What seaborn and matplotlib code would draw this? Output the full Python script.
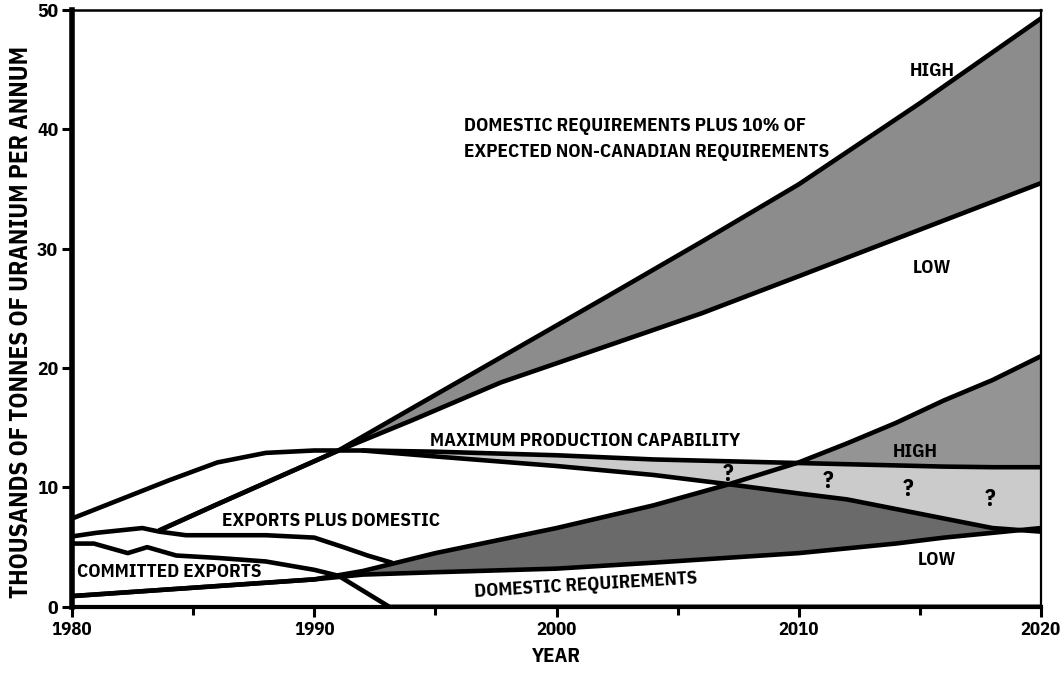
import numpy as np
import matplotlib
matplotlib.use("Agg")
import matplotlib.pyplot as plt
import seaborn as sns

# ---------------- data (thousands of tonnes U per annum) ----------------
dom_years = [1980, 1985, 1990, 1992, 1995, 2000, 2004, 2007, 2010, 2012, 2014, 2016, 2018, 2020]
dom_high = [0.9, 1.6, 2.3, 3.0, 4.5, 6.6, 8.5, 10.2, 12.1, 13.7, 15.4, 17.3, 19.0, 21.0]
dom_low = [0.9, 1.6, 2.3, 2.7, 2.9, 3.2, 3.7, 4.1, 4.5, 4.9, 5.3, 5.8, 6.2, 6.6]

cap_years = [1980, 1982, 1984, 1986, 1988, 1990, 1992, 1995, 2000, 2004, 2007, 2010, 2012, 2014, 2016, 2018, 2020]
cap_max = [7.4, 9.0, 10.6, 12.1, 12.9, 13.1, 13.1, 13.0, 12.7, 12.35, 12.2, 12.05, 11.95, 11.85, 11.75, 11.7, 11.7]

decl_years = [1992, 1995, 2000, 2004, 2007, 2010, 2012, 2014, 2016, 2018, 2020]
cap_decl = [13.1, 12.6, 11.8, 11.05, 10.3, 9.5, 9.0, 8.2, 7.4, 6.6, 6.3]

plus_years = [1983.6, 1986, 1988, 1991, 1994, 1997.7, 2002, 2006, 2010, 2015, 2020]
plus_high = [6.4, 8.6, 10.4, 13.1, 16.6, 20.9, 25.9, 30.6, 35.4, 42.2, 49.3]
plus_low = [6.4, 8.6, 10.4, 13.1, 15.6, 18.8, 21.8, 24.6, 27.7, 31.6, 35.5]

epd_years = [1980, 1981, 1982.9, 1983.6, 1984.7, 1986, 1988, 1990, 1991.2, 1992.2, 1993.2]
exports_plus_dom = [5.9, 6.2, 6.6, 6.3, 6.0, 6.0, 6.0, 5.8, 5.0, 4.3, 3.7]

ce_years = [1980, 1980.9, 1982.3, 1983.1, 1984.3, 1986, 1988, 1990, 1991, 1993.1, 2020]
committed_exports = [5.3, 5.3, 4.5, 5.0, 4.3, 4.1, 3.8, 3.1, 2.6, 0.0, 0.0]

x_ticks = [1980, 1990, 2000, 2010, 2020]
y_ticks = [0, 10, 20, 30, 40, 50]

# ---------------- style ----------------
sns.set_theme(style="white")
FAM = ["IBM Plex Sans Condensed", "DejaVu Sans"]
plt.rcParams["font.family"] = FAM
plt.rcParams["font.weight"] = "bold"
plt.rcParams["text.color"] = "black"
plt.rcParams["xtick.color"] = "black"
plt.rcParams["ytick.color"] = "black"
plt.rcParams["axes.labelcolor"] = "black"

fig = plt.figure(figsize=(10.6, 6.75), dpi=100)
ax = fig.add_axes([0.068, 0.101, 0.914, 0.884])

C_UPPER = "#8c8c8c"
C_DARK = "#6a6a6a"
C_MED = "#949494"
C_LIGHT = "#cbcbcb"

# upper band
ax.fill_between(plus_years, plus_low, plus_high, color=C_UPPER, lw=0, zorder=1)

# lower bands (fine grid only to align boundaries of the drawn polylines)
g = np.linspace(1992, 2020, 600)
dh = np.interp(g, dom_years, dom_high)
cm = np.interp(g, cap_years, cap_max)
cd = np.interp(g, decl_years, cap_decl)
ax.fill_between(dom_years, dom_low, dom_high, color=C_DARK, lw=0, zorder=1)
ax.fill_between(g, cd, cm, color=C_LIGHT, lw=0, zorder=2)
ax.fill_between(g, cm, dh, where=dh > cm, interpolate=True, color=C_MED, lw=0, zorder=2)

LW = 3.3
kw = dict(color="black", linewidth=LW, ax=ax, estimator=None, sort=False, zorder=5)
sns.lineplot(x=plus_years, y=plus_high, **kw)
sns.lineplot(x=plus_years, y=plus_low, **kw)
sns.lineplot(x=cap_years, y=cap_max, **kw)
sns.lineplot(x=decl_years, y=cap_decl, **kw)
sns.lineplot(x=dom_years, y=dom_high, **kw)
sns.lineplot(x=dom_years, y=dom_low, **kw)
sns.lineplot(x=epd_years, y=exports_plus_dom, **kw)
sns.lineplot(x=ce_years, y=committed_exports, **kw)

ax.set_xlim(1980, 2020)
ax.set_ylim(0, 50)
ax.set_xticks(x_ticks)
ax.set_xticks([1985, 1995, 2005, 2015], minor=True)
ax.set_yticks(y_ticks)
ax.set_xticklabels([str(v) for v in x_ticks], fontsize=13.5, fontweight="bold")
ax.set_yticklabels([str(v) for v in y_ticks], fontsize=14, fontweight="bold")
ax.tick_params(axis="both", which="major", direction="out", length=7, width=2.2,
               color="black", pad=3, bottom=True, left=True)
ax.tick_params(axis="x", which="minor", direction="out", length=6, width=2.2,
               color="black", bottom=True)

for side, w in [("left", 4.0), ("bottom", 3.0), ("top", 1.8), ("right", 1.6)]:
    ax.spines[side].set_visible(True)
    ax.spines[side].set_color("black")
    ax.spines[side].set_linewidth(w)

ax.set_xlabel("YEAR", fontsize=15, fontweight="bold", labelpad=6)
ax.set_ylabel("THOUSANDS OF TONNES OF URANIUM PER ANNUM", fontsize=18,
              fontweight="bold")
ax.yaxis.set_label_coords(-0.040, 0.477)

tk = dict(fontsize=13.8, fontweight="bold", color="black", zorder=6)
ax.text(1996.2, 40.3, "DOMESTIC REQUIREMENTS PLUS 10% OF", ha="left", va="center", **tk)
ax.text(1996.2, 38.1, "EXPECTED NON-CANADIAN REQUIREMENTS", ha="left", va="center", **tk)
ax.text(2015.5, 44.9, "HIGH", ha="center", va="center", **tk)
ax.text(2015.5, 28.4, "LOW", ha="center", va="center", **tk)
ax.text(2014.8, 13.0, "HIGH", ha="center", va="center", **tk)
ax.text(2015.7, 3.9, "LOW", ha="center", va="center", **tk)
ax.text(2001.2, 13.9, "MAXIMUM PRODUCTION CAPABILITY", ha="center", va="center", **tk)
ax.text(1990.7, 7.2, "EXPORTS PLUS DOMESTIC", ha="center", va="center", **tk)
ax.text(1984.0, 2.9, "COMMITTED EXPORTS", ha="center", va="center", **tk)
ax.text(2001.2, 1.85, "DOMESTIC REQUIREMENTS", ha="center", va="center", rotation=3.5,
        fontsize=13.6, fontweight="bold", color="black", zorder=6)
for qx, qy in [(2007.1, 11.05), (2011.2, 10.5), (2014.5, 9.8), (2017.9, 9.0)]:
    ax.text(qx, qy, "?", ha="center", va="center", fontsize=17, fontweight="bold", zorder=6)

fig.savefig("out.png", dpi=100)
